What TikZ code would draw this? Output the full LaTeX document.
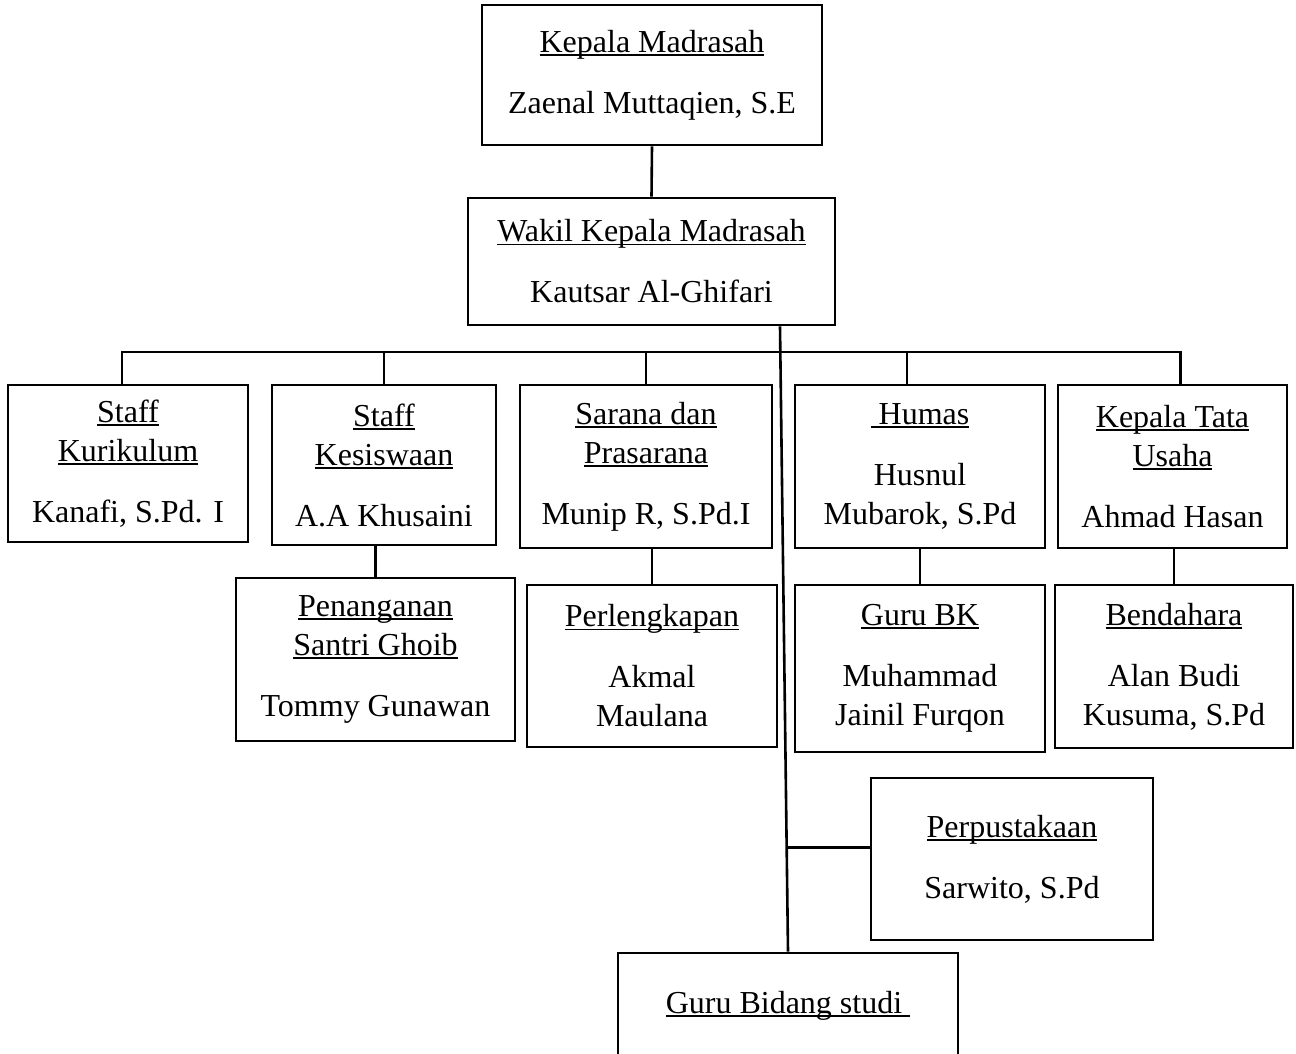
\documentclass[tikz,border=0pt]{standalone}
\usepackage{fontspec}
\setmainfont{Liberation Serif}
\usetikzlibrary{calc}
\tikzset{
  box/.style={draw, line width=2.6pt, inner sep=0pt, align=center,
    font=\fontsize{32}{39}\selectfont},
  link/.style={line width=2.6pt}
}
\newcommand{\ttl}[1]{\setbox0=\hbox{#1}\rlap{\rule[-3.5pt]{\wd0}{1.8pt}}\box0}

\begin{document}
\begin{tikzpicture}[x=1pt,y=-1pt]
  \useasboundingbox (0,0) rectangle (1296,1054);
  %% Boxes
  \node[box, minimum width=340pt, minimum height=140pt] (kepala) at (652,75)
    {\ttl{Kepala Madrasah}\\[22pt]Zaenal Muttaqien, S.E};
  \node[box, minimum width=367pt, minimum height=127pt] (wakil) at (651.5,261.5)
    {\ttl{Wakil Kepala Madrasah}\\[22pt]Kautsar Al-Ghifari};
  \node[box, minimum width=240pt, minimum height=157pt] (kuri) at (128,463.5)
    {\ttl{Staff}\\\ttl{Kurikulum}\\[22pt]Kanafi, S.Pd. I};
  \node[box, minimum width=224pt, minimum height=160pt] (kesis) at (384,465)
    {\ttl{Staff}\\\ttl{Kesiswaan}\\[22pt]A.A Khusaini};
  \node[box, minimum width=252pt, minimum height=163pt] (sarana) at (646,466.5)
    {\ttl{Sarana dan}\\\ttl{Prasarana}\\[22pt]Munip R, S.Pd.I};
  \node[box, minimum width=250pt, minimum height=163pt] (humas) at (920,466.5)
    {\ttl{\ Humas}\\[22pt]Husnul\\Mubarok, S.Pd};
  \node[box, minimum width=229pt, minimum height=163pt] (tu) at (1172.5,466.5)
    {\ttl{Kepala Tata}\\\ttl{Usaha}\\[22pt]Ahmad Hasan};
  \node[box, minimum width=279pt, minimum height=163pt] (pen) at (375.5,659.5)
    {\ttl{Penanganan}\\\ttl{Santri Ghoib}\\[22pt]Tommy Gunawan};
  \node[box, minimum width=250pt, minimum height=162pt] (perl) at (652,666)
    {\ttl{Perlengkapan}\\[22pt]Akmal\\Maulana};
  \node[box, minimum width=250pt, minimum height=167pt] (bk) at (920,668.5)
    {\ttl{Guru BK}\\[22pt]Muhammad\\Jainil Furqon};
  \node[box, minimum width=238pt, minimum height=163pt] (bend) at (1174,666.5)
    {\ttl{Bendahara}\\[22pt]Alan Budi\\Kusuma, S.Pd};
  \node[box, minimum width=282pt, minimum height=162pt] (perp) at (1012,859)
    {\ttl{Perpustakaan}\\[22pt]Sarwito, S.Pd};
  \node[box, minimum width=340pt, minimum height=160pt] (guru) at (788,1033)
    {\ttl{Guru Bidang studi\ }\\[22pt]\mbox{}};
  %% Lines
  \coordinate (bus) at (0,352);
  \coordinate (spTop) at ([xshift=128.5pt]wakil.south);
  \coordinate (spMid) at ($(spTop)!0.833!(guru.north)$);
  \draw[link] (kepala.south) -- (wakil.north);
  \draw[link] (spTop) -- (guru.north);
  \draw[link] ([xshift=-6pt]kuri.north) -- ([xshift=-6pt]kuri.north |- bus)
    -- ([xshift=8pt]tu.north |- bus) -- ([xshift=8pt]tu.north);
  \foreach \n in {kesis,sarana}
    \draw[link] (\n.north) -- (\n.north |- bus);
  \draw[link] ([xshift=-13pt]humas.north) -- ([xshift=-13pt]humas.north |- bus);
  \foreach \a/\b in {kesis/pen,sarana/perl,humas/bk,tu/bend}
    \draw[link] (\a.south -| \b.north) -- (\b.north);
  \draw[link] (spMid) -- (spMid -| perp.west);
\end{tikzpicture}
\end{document}
